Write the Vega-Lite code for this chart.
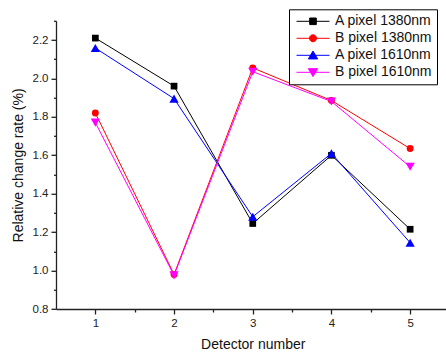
{
  "$schema": "https://vega.github.io/schema/vega-lite/v6.json",
  "width": 393.5,
  "height": 288.2,
  "autosize": "none",
  "padding": {"left": 56, "top": 20.8, "right": 0, "bottom": 47},
  "background": "white",
  "config": {
    "view": {"stroke": null},
    "font": "Liberation Sans",
    "axis": {
      "grid": false,
      "labelFont": "Liberation Sans",
      "titleFont": "Liberation Sans",
      "labelFontSize": 11.5,
      "labelColor": "#222222",
      "titleFontSize": 14,
      "titleFontWeight": "normal",
      "titleColor": "#111111",
      "domainColor": "#222222",
      "domainWidth": 1.3,
      "tickColor": "#222222",
      "tickWidth": 1.3,
      "tickSize": 5,
      "labelPadding": 3
    },
    "legend": {"labelFont": "Liberation Sans"}
  },
  "data": {
    "values": [
      {"detector": 1, "series": "A pixel 1380nm", "value": 2.21},
      {"detector": 2, "series": "A pixel 1380nm", "value": 1.96},
      {"detector": 3, "series": "A pixel 1380nm", "value": 1.245},
      {"detector": 4, "series": "A pixel 1380nm", "value": 1.6},
      {"detector": 5, "series": "A pixel 1380nm", "value": 1.215},
      {"detector": 1, "series": "B pixel 1380nm", "value": 1.82},
      {"detector": 2, "series": "B pixel 1380nm", "value": 0.98},
      {"detector": 3, "series": "B pixel 1380nm", "value": 2.055},
      {"detector": 4, "series": "B pixel 1380nm", "value": 1.885},
      {"detector": 5, "series": "B pixel 1380nm", "value": 1.635},
      {"detector": 1, "series": "A pixel 1610nm", "value": 2.158},
      {"detector": 2, "series": "A pixel 1610nm", "value": 1.895},
      {"detector": 3, "series": "A pixel 1610nm", "value": 1.28},
      {"detector": 4, "series": "A pixel 1610nm", "value": 1.61},
      {"detector": 5, "series": "A pixel 1610nm", "value": 1.145},
      {"detector": 1, "series": "B pixel 1610nm", "value": 1.77},
      {"detector": 2, "series": "B pixel 1610nm", "value": 0.975},
      {"detector": 3, "series": "B pixel 1610nm", "value": 2.035},
      {"detector": 4, "series": "B pixel 1610nm", "value": 1.88},
      {"detector": 5, "series": "B pixel 1610nm", "value": 1.54}
    ]
  },
  "layer": [
    {
      "mark": {"type": "line", "strokeWidth": 1},
      "encoding": {
        "x": {
          "field": "detector", "type": "quantitative",
          "scale": {"domain": [0.5, 5.5], "nice": false, "zero": false},
          "axis": {"values": [1, 2, 3, 4, 5], "title": "Detector number", "titlePadding": 9, "orient": "bottom"}
        },
        "y": {
          "field": "value", "type": "quantitative",
          "scale": {"domain": [0.8, 2.3], "nice": false, "zero": false},
          "axis": {"values": [0.8, 1.0, 1.2, 1.4, 1.6, 1.8, 2.0, 2.2], "format": ".1f", "title": "Relative change rate (%)", "titlePadding": 7, "orient": "left"}
        },
        "color": {
          "field": "series", "type": "nominal",
          "scale": {
            "domain": ["A pixel 1380nm", "B pixel 1380nm", "A pixel 1610nm", "B pixel 1610nm"],
            "range": ["#000000", "#ff0000", "#0000ff", "#ff00ff"]
          },
          "legend": {
            "title": null,
            "orient": "none",
            "legendX": 233,
            "legendY": -11.5,
            "fillColor": "white",
            "strokeColor": "black",
            "padding": 5,
            "symbolSize": 100,
            "symbolOffset": 12,
            "labelFontSize": 14,
            "labelColor": "#111111",
            "labelOffset": 15,
            "rowPadding": 3,
            "encode": {
              "symbols": {
                "update": {
                  "shape": {"signal": "datum.value === 'A pixel 1380nm' ? 'M-3.3,0H3.3M-0.66,-0.66H0.66V0.66H-0.66Z' : datum.value === 'B pixel 1380nm' ? 'M-3.3,0H3.3M-0.7,0A0.7,0.7,0,1,1,0.7,0A0.7,0.7,0,1,1,-0.7,0Z' : datum.value === 'A pixel 1610nm' ? 'M-3.3,0H3.3M0,-0.86L0.93,0.73L-0.93,0.73Z' : 'M-3.3,0H3.3M0,0.86L0.93,-0.73L-0.93,-0.73Z'"},
                  "stroke": {"scale": "color", "field": "value"},
                  "fill": {"scale": "color", "field": "value"},
                  "strokeWidth": {"value": 1},
                  "opacity": {"value": 1},
                  "fillOpacity": {"value": 1}
                }
              }
            }
          }
        }
      }
    },
    {
      "transform": [{"filter": "datum.series === 'A pixel 1380nm'"}],
      "mark": {"type": "point", "filled": true, "opacity": 1, "shape": "square", "size": 45},
      "encoding": {
        "x": {
          "field": "detector", "type": "quantitative",
          "axis": {"values": [1.5, 2.5, 3.5, 4.5], "labels": false, "domain": false, "title": null, "tickSize": 3, "orient": "bottom"}
        },
        "y": {
          "field": "value", "type": "quantitative",
          "axis": {"values": [0.9, 1.1, 1.3, 1.5, 1.7, 1.9, 2.1, 2.3], "labels": false, "domain": false, "title": null, "tickSize": 2.5, "orient": "left"}
        },
        "color": {"field": "series", "type": "nominal", "legend": null}
      }
    },
    {
      "transform": [{"filter": "datum.series === 'B pixel 1380nm'"}],
      "mark": {"type": "point", "filled": true, "opacity": 1, "shape": "circle", "size": 48},
      "encoding": {
        "x": {"field": "detector", "type": "quantitative", "axis": null},
        "y": {"field": "value", "type": "quantitative", "axis": null},
        "color": {"field": "series", "type": "nominal", "legend": null}
      }
    },
    {
      "transform": [{"filter": "datum.series === 'A pixel 1610nm'"}],
      "mark": {"type": "point", "filled": true, "opacity": 1, "shape": "triangle-up", "size": 86},
      "encoding": {
        "x": {"field": "detector", "type": "quantitative", "axis": null},
        "y": {"field": "value", "type": "quantitative", "axis": null},
        "color": {"field": "series", "type": "nominal", "legend": null}
      }
    },
    {
      "transform": [{"filter": "datum.series === 'B pixel 1610nm'"}],
      "mark": {"type": "point", "filled": true, "opacity": 1, "shape": "triangle-down", "size": 86},
      "encoding": {
        "x": {"field": "detector", "type": "quantitative", "axis": null},
        "y": {"field": "value", "type": "quantitative", "axis": null},
        "color": {"field": "series", "type": "nominal", "legend": null}
      }
    }
  ],
  "resolve": {"axis": {"x": "independent", "y": "independent"}}
}
